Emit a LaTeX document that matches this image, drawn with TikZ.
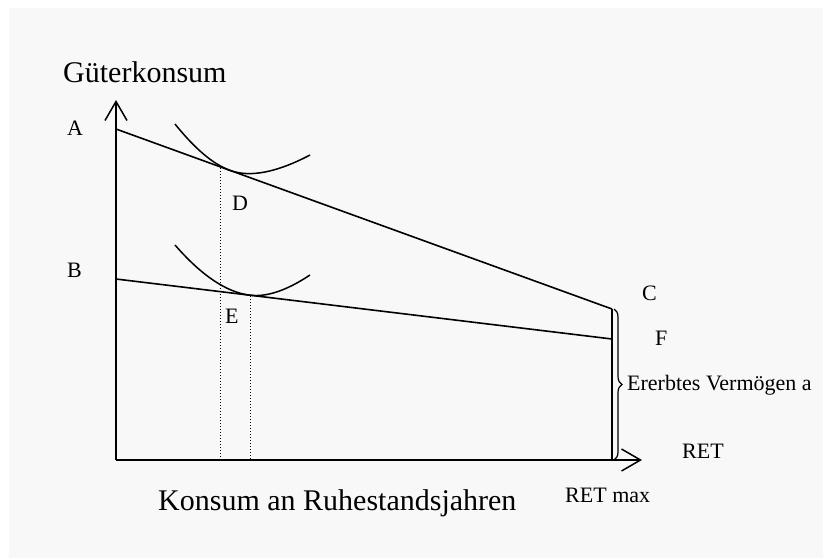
\documentclass[tikz,border=0pt]{standalone}
\usepackage{fontspec}
\setmainfont{Liberation Serif}
\usepackage{xcolor}
\usetikzlibrary{arrows.meta, decorations.pathreplacing, positioning}
\definecolor{bggray}{HTML}{F8F8F8}

\begin{document}
\begin{tikzpicture}[x=1pt, y=-1pt, font=\fontsize{22}{26}\selectfont,
		axis/.style={line width=2pt, -{Straight Barb[length=19pt, width=22pt, line width=1.5pt]}},
		budget/.style={line width=1.6pt},
		indiff/.style={line width=1.5pt},
		guide/.style={line width=1pt, dotted},
		lbl/.style={inner sep=0pt, anchor=base west},
		title/.style={lbl, font=\fontsize{30}{36}\selectfont}]
			\useasboundingbox (0,0) rectangle (823,558);
			\fill[bggray] (9,8) rectangle (823,558);
			\coordinate (O) at (116,460);
			\coordinate (Ytop) at (116,100);
			\coordinate (Xtip) at (642,460);
			\coordinate (A) at (116,129);
			\coordinate (C) at (612,309);
			\coordinate (B) at (116,279);
			\coordinate (F) at (612,339);
			\coordinate (Retmax) at (612,460);
			\coordinate (Dtop) at (220,168);
			\coordinate (Dbot) at (220,460);
			\coordinate (Etop) at (250,296);
			\coordinate (Ebot) at (250,460);
			\draw[axis] (O) -- (Ytop);
			\draw[axis] (O) -- (Xtip);
			\draw[budget] (A) -- (C);
			\draw[budget] (B) -- (F);
			\draw[line width=2pt] (C) -- (Retmax);
			\draw[line width=1.2pt, decorate, decoration={brace, amplitude=8pt}] (614,309) -- (614,460);
			\draw[indiff] (175,124) .. controls (195,148.9) and (213.3,164.3) .. (230,170.4)
				.. controls (250,177.7) and (276.7,172.5) .. (310,155);
			\draw[indiff] (175,245) .. controls (201.7,275.7) and (226.7,292.4) .. (250,295.2)
				.. controls (266.7,297.2) and (286.7,290.5) .. (310,275);
			\draw[guide] (Dtop) -- (Dbot);
			\draw[guide] (Etop) -- (Ebot);
			\node[title] (ylabel) at (63,82) {Güterkonsum};
			\node[title] (xlabel) at (158,510) {Konsum an Ruhestandsjahren};
			\node[lbl] (lA) at (67,135) {A};
			\node[lbl] (lB) at (67,277) {B};
			\node[lbl] (lC) at (642,300) {C};
			\node[lbl] (lD) at (232,210) {D};
			\node[lbl] (lE) at (225,323) {E};
			\node[lbl] (lF) at (655,345) {F};
			\node[lbl] (lerbe) at (627,390) {Ererbtes Vermögen a};
			\node[lbl] (lret) at (682,458) {RET};
			\node[lbl] (lretmax) at (565,502) {RET max};
		\end{tikzpicture}
\end{document}
